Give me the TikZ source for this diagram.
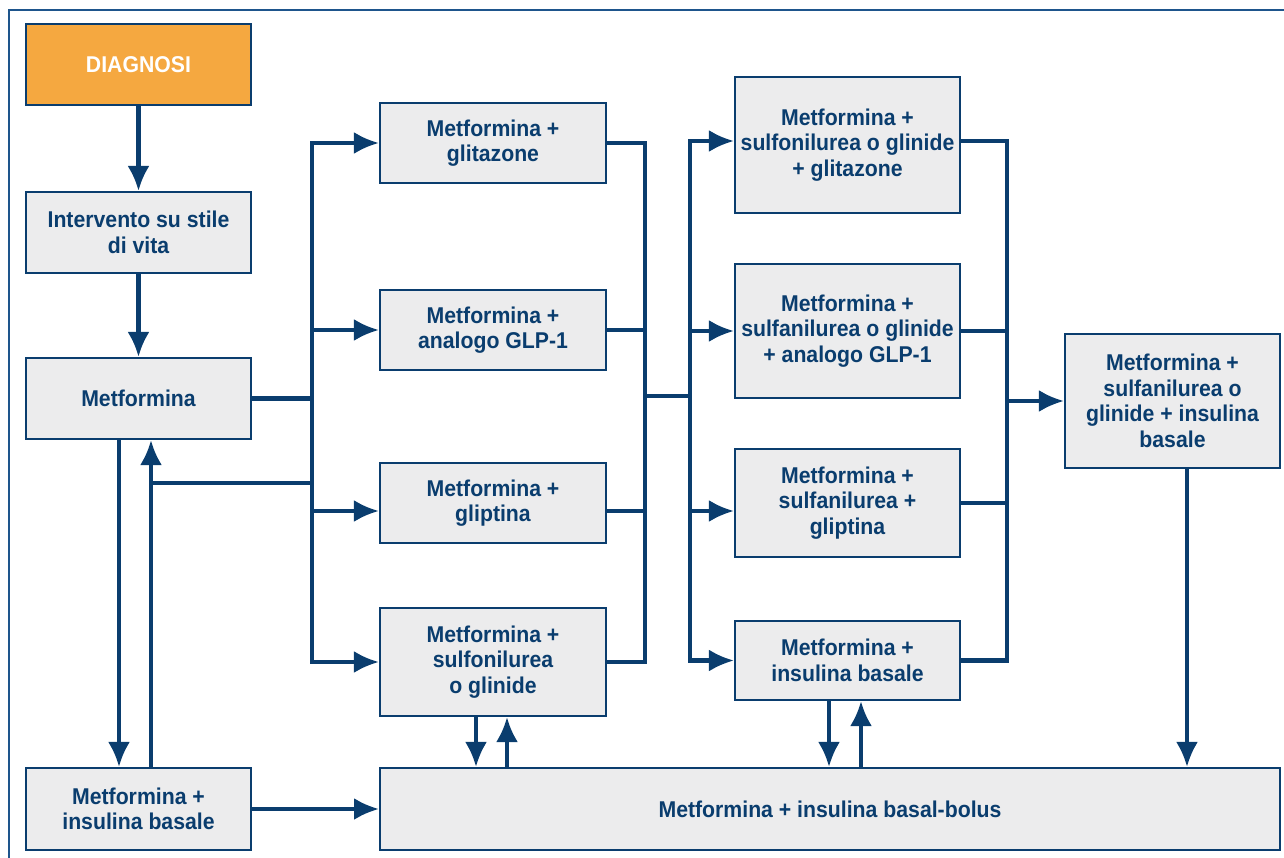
\documentclass[tikz,border=0pt]{standalone}
\usepackage{fontspec}
\setmainfont{Liberation Sans}[FakeStretch=0.93]
\usetikzlibrary{arrows.meta}
\definecolor{DtNavy}{RGB}{10,61,110}
\definecolor{DtOrange}{RGB}{245,168,64}
\definecolor{DtFill}{RGB}{236,236,237}
\definecolor{DtFrame}{RGB}{30,85,140}
\tikzset{
  dt/box/.style={
    draw=DtNavy,
    line width=1.2pt,
    fill=DtFill,
    align=center,
    text=DtNavy,
    inner sep=2pt,
    font=\fontsize{13}{14.6}\selectfont\bfseries
  },
  dt/start/.style={dt/box, fill=DtOrange, text=white},
  dt/arrow/.style={-{Latex[length=0.5cm,width=0.44cm]}, line width=2.3pt, draw=DtNavy},
  dt/line/.style={line width=2.3pt, draw=DtNavy},
  dt/frame/.style={line width=0.7pt, draw=DtFrame}
}

\begin{document}
\begin{tikzpicture}[x=0.02cm,y=-0.02cm]
  \useasboundingbox (0,0) rectangle (1284,858);
  \draw[dt/frame] (1284,10) -- (9,10) -- (9,858);

  \node[dt/start,minimum width=4.5cm,minimum height=1.62cm] (diag) at (138.5,64.5) {DIAGNOSI};
  \node[dt/box,minimum width=4.5cm,minimum height=1.62cm] (stile) at (138.5,232.5) {Intervento su stile\\di vita};
  \node[dt/box,minimum width=4.5cm,minimum height=1.62cm] (metf) at (138.5,398.5) {Metformina};
  \node[dt/box,minimum width=4.5cm,minimum height=1.64cm] (insbas) at (138.5,809) {Metformina +\\insulina basale};

  \node[dt/box,minimum width=4.52cm,minimum height=1.6cm] (glitaz) at (493,143) {Metformina +\\glitazone};
  \node[dt/box,minimum width=4.52cm,minimum height=1.6cm] (glp) at (493,330) {Metformina +\\analogo GLP-1};
  \node[dt/box,minimum width=4.52cm,minimum height=1.6cm] (glipt) at (493,503) {Metformina +\\gliptina};
  \node[dt/box,minimum width=4.52cm,minimum height=2.16cm] (sulf) at (493,662) {Metformina +\\sulfonilurea\\o glinide};

  \node[dt/box,minimum width=4.5cm,minimum height=2.72cm] (sulfglitaz) at (847.5,145) {Metformina +\\sulfonilurea o glinide\\+ glitazone};
  \node[dt/box,minimum width=4.5cm,minimum height=2.68cm] (sulfglp) at (847.5,331) {Metformina +\\sulfanilurea o glinide\\+ analogo GLP-1};
  \node[dt/box,minimum width=4.5cm,minimum height=2.16cm] (sulfglipt) at (847.5,503) {Metformina +\\sulfanilurea +\\gliptina};
  \node[dt/box,minimum width=4.5cm,minimum height=1.58cm] (insbas2) at (847.5,660.5) {Metformina +\\insulina basale};

  \node[dt/box,minimum width=4.3cm,minimum height=2.68cm] (sulfins) at (1172.5,401) {Metformina +\\sulfanilurea o\\glinide + insulina\\basale};
  \node[dt/box,minimum width=18cm,minimum height=1.64cm] (bolus) at (830,809) {Metformina + insulina basal-bolus};

  \coordinate (bus1) at (312,397);
  \coordinate (bus2) at (645,396);
  \coordinate (bus3) at (690,396);
  \coordinate (bus4) at (1007,401);
  \coordinate (back) at (151,483);
  \coordinate (down) at (119,0);
  \coordinate (gliptin) at ([yshift=-0.16cm]glipt.west);
  \coordinate (gliptout) at ([yshift=-0.16cm]glipt.east);
  \coordinate (glitazin) at ([yshift=0.08cm]sulfglitaz.west);
  \coordinate (glitazout) at ([yshift=0.08cm]sulfglitaz.east);
  \coordinate (sglin) at ([yshift=-0.16cm]sulfglipt.west);

  \draw[dt/arrow] (diag) -- (stile);
  \draw[dt/arrow] (stile) -- (metf);
  \draw[dt/line] (metf.east) -- (bus1 |- metf.east);
  \draw[dt/arrow] (bus1) |- (glitaz.west);
  \draw[dt/arrow] (bus1) |- (sulf.west);
  \draw[dt/arrow] (bus1 |- glp.west) -- (glp.west);
  \draw[dt/arrow] (bus1 |- gliptin) -- (gliptin);

  \draw[dt/arrow] (metf.south -| down) -- (insbas.north -| down);
  \draw[dt/arrow] (insbas.north -| back) -- (metf.south -| back);
  \draw[dt/line] (back) -- (bus1 |- back);
  \draw[dt/arrow] (insbas.east) -- (insbas.east -| bolus.west);

  \draw[dt/line] (glitaz.east) -| (bus2);
  \draw[dt/line] (sulf.east) -| (bus2);
  \draw[dt/line] (glp.east) -- (glp.east -| bus2);
  \draw[dt/line] (gliptout) -- (gliptout -| bus2);
  \draw[dt/line] (bus2) -- (bus3);

  \draw[dt/arrow] (bus3) |- (glitazin);
  \draw[dt/arrow] (bus3) |- (insbas2.west);
  \draw[dt/arrow] (bus3 |- sulfglp.west) -- (sulfglp.west);
  \draw[dt/arrow] (bus3 |- sglin) -- (sglin);

  \draw[dt/line] (glitazout) -| (bus4);
  \draw[dt/line] (insbas2.east) -| (bus4);
  \draw[dt/line] (sulfglp.east) -- (sulfglp.east -| bus4);
  \draw[dt/line] (sulfglipt.east) -- (sulfglipt.east -| bus4);
  \draw[dt/arrow] (bus4) -- (sulfins.west);

  \coordinate (sulfdn) at ([xshift=-0.34cm]sulf.south);
  \coordinate (sulfup) at ([xshift=0.28cm]sulf.south);
  \draw[dt/arrow] (sulfdn) -- (sulfdn |- bolus.north);
  \draw[dt/arrow] (sulfup |- bolus.north) -- (sulfup);

  \coordinate (insdn) at ([xshift=-0.37cm]insbas2.south);
  \coordinate (insup) at ([xshift=0.27cm]insbas2.south);
  \draw[dt/arrow] (insdn) -- (insdn |- bolus.north);
  \draw[dt/arrow] (insup |- bolus.north) -- (insup);

  \coordinate (finaldn) at ([xshift=0.29cm]sulfins.south);
  \draw[dt/arrow] (finaldn) -- (finaldn |- bolus.north);
\end{tikzpicture}
\end{document}
